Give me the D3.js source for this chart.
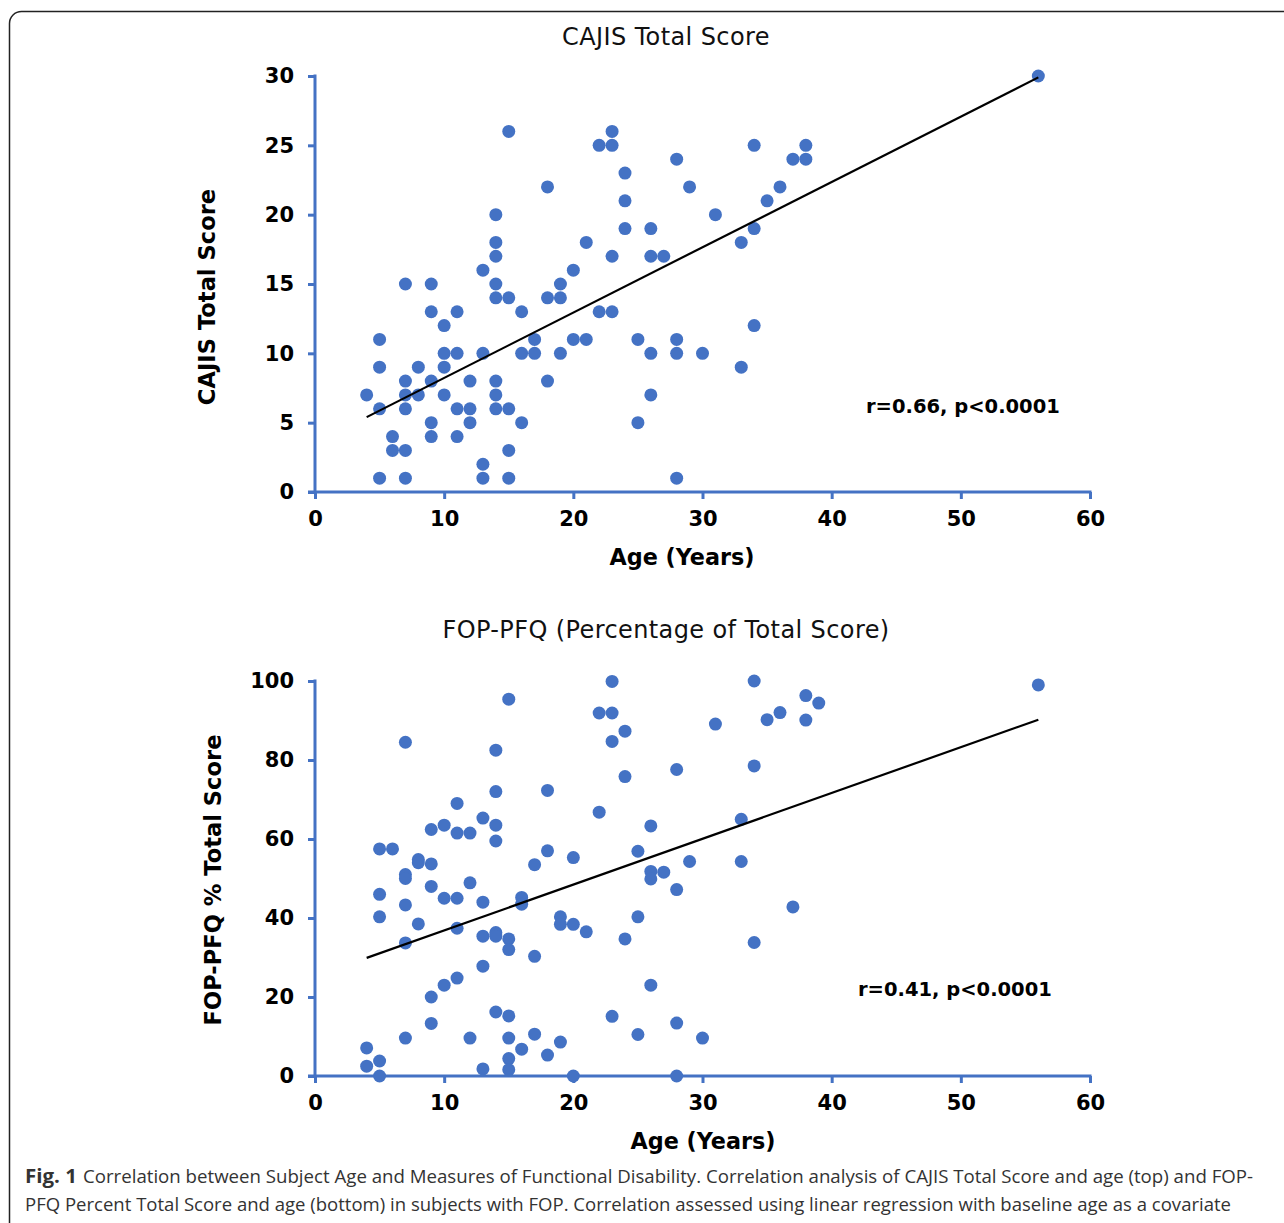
<!DOCTYPE html>
<html>
<head>
<meta charset="utf-8">
<script src="https://cdn.jsdelivr.net/npm/d3@7"></script>
<style>
  html, body { margin: 0; padding: 0; background: #fff; }
  svg { display: block; }
</style>
</head>
<body>
<svg id="chart" width="1284" height="1223"></svg>
<script>
// ---------- DATA ----------
const cajisAge   = [4,5,5,5,5,6,6,7,7,7,7,7,7,8,8,9,9,9,9,9,10,10,10,10,11,11,11,11,12,12,12,13,13,13,13,14,14,14,14,14,14,14,14,15,15,15,15,15,16,16,16,17,17,18,18,18,19,19,19,20,20,21,21,22,22,23,23,23,23,24,24,24,25,25,26,26,26,26,27,28,28,28,28,29,30,31,33,33,34,34,34,35,36,37,38,38,56];
const cajisScore = [7,11,9,6,1,4,3,15,8,7,6,3,1,9,7,15,13,8,5,4,12,10,9,7,13,10,6,4,8,6,5,16,10,2,1,20,18,17,15,14,8,7,6,26,14,6,3,1,13,10,5,11,10,22,14,8,15,14,10,16,11,18,11,25,13,26,25,17,13,23,21,19,11,5,19,17,10,7,17,24,11,10,1,22,10,20,18,9,25,19,12,21,22,24,25,24,30];
const cajisTrendAge   = [4, 56];
const cajisTrendScore = [5.4, 29.9];

const pfqAge = [4,4,5,5,5,5,5,6,7,7,7,7,7,7,8,8,8,9,9,9,9,9,10,10,10,11,11,11,11,11,12,12,12,13,13,13,13,13,14,14,14,14,14,14,14,15,15,15,15,15,15,15,16,16,16,17,17,17,18,18,18,19,19,19,20,20,20,21,22,22,23,23,23,23,24,24,24,25,25,25,26,26,26,26,27,28,28,28,28,29,30,31,33,33,34,34,34,35,36,37,38,38,39,56];
const pfqPct = [7.1,2.5,57.5,46,40.3,3.8,0,57.5,84.5,51,50,43.3,33.7,9.6,54.8,54,38.5,62.4,53.7,48,20,13.3,63.5,45,23,69,61.5,45,37.4,24.8,61.5,48.9,9.6,65.3,44,35.4,27.8,1.8,82.5,72,63.5,59.5,36.3,35.4,16.2,95.4,34.7,32,15.2,9.6,4.4,1.6,45.2,43.5,6.8,53.5,30.3,10.6,72.3,57,5.3,40.3,38.4,8.6,55.3,38.4,0,36.5,91.9,66.8,99.9,91.9,84.7,15.1,87.3,75.8,34.7,56.9,40.3,10.5,63.3,51.8,49.9,23,51.6,77.6,47.2,13.4,0,54.3,9.6,89.1,65,54.3,100,78.5,33.8,90.2,92,42.8,96.3,90.1,94.4,99];
const pfqTrendAge = [4, 56];
const pfqTrendPct = [29.9, 90.2];

const xTicks = [0,10,20,30,40,50,60];
const cajisTicks = [0,5,10,15,20,25,30];
const pfqTicks = [0,20,40,60,80,100];

const captionBold = "Fig. 1";
const captionLine1 = "Correlation between Subject Age and Measures of Functional Disability. Correlation analysis of CAJIS Total Score and age (top) and FOP-";
const captionLine2 = "PFQ Percent Total Score and age (bottom) in subjects with FOP. Correlation assessed using linear regression with baseline age as a covariate";

// ---------- DRAW ----------
const svg = d3.select("#chart");
const BLUE = "#4472C4";
const FONT = "'DejaVu Sans', Verdana, sans-serif";

// frame
svg.append("rect")
  .attr("x", 9.5).attr("y", 11.5).attr("width", 1320).attr("height", 1260)
  .attr("rx", 12).attr("ry", 12)
  .attr("fill", "none").attr("stroke", "#222").attr("stroke-width", 1.5);

function panel(cfg) {
  const x = d3.scaleLinear().domain([0, 60]).range([315, 1090]);
  const y = d3.scaleLinear().domain(cfg.yDomain).range([cfg.yBottom, cfg.yTop]);
  const g = svg.append("g");

  // title
  g.append("text").attr("x", 666).attr("y", cfg.titleY)
    .attr("text-anchor", "middle").attr("font-family", FONT)
    .attr("font-size", 24).attr("letter-spacing", 0.4).attr("fill", "#111").text(cfg.title);

  // y axis
  const yAxis = d3.axisLeft(y).tickValues(cfg.yTicks).tickSize(7).tickPadding(14);
  const ya = g.append("g").attr("transform", `translate(315,0)`).call(yAxis);
  // x axis
  const xAxis = d3.axisBottom(x).tickValues(xTicks).tickSize(7).tickPadding(12);
  const xa = g.append("g").attr("transform", `translate(0,${cfg.yBottom})`).call(xAxis);

  [ya, xa].forEach(a => {
    a.select(".domain").remove();
    a.selectAll(".tick line").attr("stroke", BLUE).attr("stroke-width", 3);
    a.selectAll(".tick text").attr("font-family", FONT).attr("font-weight", "bold")
      .attr("font-size", 21).attr("fill", "#000");
  });
  // axis lines
  g.append("line").attr("x1", 315).attr("x2", 315).attr("y1", y(cfg.yDomain[1]) - 1.5).attr("y2", cfg.yBottom)
    .attr("stroke", BLUE).attr("stroke-width", 3);
  g.append("line").attr("x1", 308).attr("x2", x(60) + 1.5).attr("y1", cfg.yBottom).attr("y2", cfg.yBottom)
    .attr("stroke", BLUE).attr("stroke-width", 3);

  // axis titles
  g.append("text").attr("x", cfg.xTitleX).attr("y", cfg.yBottom + 73)
    .attr("text-anchor", "middle").attr("font-family", FONT).attr("font-weight", "bold")
    .attr("font-size", 22.3).attr("fill", "#000").text("Age (Years)");
  g.append("text")
    .attr("transform", `translate(${cfg.yTitleX},${cfg.yTitleY}) rotate(-90)`)
    .attr("text-anchor", "middle").attr("font-family", FONT).attr("font-weight", "bold")
    .attr("font-size", 22.6).attr("fill", "#000").text(cfg.yTitle);

  // points
  g.append("g").selectAll("circle").data(cfg.ages.map((a, i) => [a, cfg.vals[i]]))
    .join("circle")
    .attr("cx", d => x(d[0])).attr("cy", d => y(d[1])).attr("r", 6.5)
    .attr("fill", BLUE);

  // trend line
  const line = d3.line().x(d => x(d[0])).y(d => y(d[1]));
  g.append("path").datum(cfg.trendX.map((a, i) => [a, cfg.trendY[i]]))
    .attr("d", line).attr("fill", "none").attr("stroke", "#000").attr("stroke-width", 2.2);

  // annotation
  g.append("text").attr("x", cfg.annX).attr("y", cfg.annY)
    .attr("font-family", FONT).attr("font-weight", "bold").attr("font-size", 19.5)
    .attr("fill", "#000").text(cfg.ann);
}

panel({
  title: "CAJIS Total Score", titleY: 45,
  yDomain: [0, 30], yBottom: 492, yTop: 76, yTicks: cajisTicks,
  yTitle: "CAJIS Total Score", yTitleX: 215, yTitleY: 297,
  xTitleX: 682,
  ages: cajisAge, vals: cajisScore, trendX: cajisTrendAge, trendY: cajisTrendScore,
  ann: "r=0.66, p<0.0001", annX: 866, annY: 413
});

panel({
  title: "FOP-PFQ (Percentage of Total Score)", titleY: 638,
  yDomain: [0, 100], yBottom: 1076, yTop: 681, yTicks: pfqTicks,
  yTitle: "FOP-PFQ % Total Score", yTitleX: 221, yTitleY: 880,
  xTitleX: 703,
  ages: pfqAge, vals: pfqPct, trendX: pfqTrendAge, trendY: pfqTrendPct,
  ann: "r=0.41, p<0.0001", annX: 858, annY: 996
});

// caption
const CAP = "'Open Sans', 'Noto Sans', sans-serif";
svg.append("text").attr("x", 25).attr("y", 1183)
  .attr("font-family", CAP).attr("font-weight", "bold").attr("font-size", 19)
  .attr("fill", "#333").attr("textLength", 52).attr("lengthAdjust", "spacingAndGlyphs")
  .text(captionBold);
svg.append("text").attr("x", 83).attr("y", 1183)
  .attr("font-family", CAP).attr("font-size", 19).attr("fill", "#333")
  .attr("textLength", 1170).attr("lengthAdjust", "spacingAndGlyphs")
  .text(captionLine1);
svg.append("text").attr("x", 25).attr("y", 1211)
  .attr("font-family", CAP).attr("font-size", 19).attr("fill", "#333")
  .attr("textLength", 1206).attr("lengthAdjust", "spacingAndGlyphs")
  .text(captionLine2);
</script>
</body>
</html>
